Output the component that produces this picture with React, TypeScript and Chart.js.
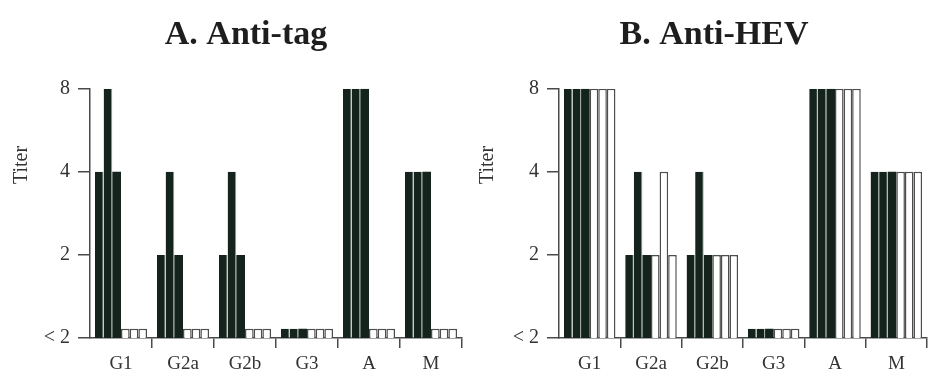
import React, { useEffect, useRef } from "react";
import { Chart, registerables } from "chart.js";

Chart.register(...registerables);

// ---------- data ----------
const categories = ["G1", "G2a", "G2b", "G3", "A", "M"];
const LT = 1.08; // "< 2" (below detection) shown as a short stub
const yTickValues = [1, 2, 4, 8];
const yTickLabels = ["< 2", "2", "4", "8"];

// A. Anti-tag
const tagDark1 = [4, 2, 2, LT, 8, 4];
const tagDark2 = [8, 4, 4, LT, 8, 4];
const tagDark3 = [4, 2, 2, LT, 8, 4];
const tagWhite1 = [LT, LT, LT, LT, LT, LT];
const tagWhite2 = [LT, LT, LT, LT, LT, LT];
const tagWhite3 = [LT, LT, LT, LT, LT, LT];

// B. Anti-HEV
const hevDark1 = [8, 2, 2, LT, 8, 4];
const hevDark2 = [8, 4, 4, LT, 8, 4];
const hevDark3 = [8, 2, 2, LT, 8, 4];
const hevWhite1 = [8, 2, 2, LT, 8, 4];
const hevWhite2 = [8, 4, 2, LT, 8, 4];
const hevWhite3 = [8, 2, 2, LT, 8, 4];

// ---------- styles ----------
const SERIF = "'Liberation Serif', 'DejaVu Serif', serif";
const AXIS = "#4a4a4a";
const TEXT = "#333";
const DARK = "#14241c";
const SEP = "#a3ada7";
const WHITE_EDGE = "#4d4d4d";

const sideLabel = {
  id: "sideLabel",
  afterDraw(chart: any, _args: any, opts: any) {
    if (!opts || !opts.text) return;
    const ctx = chart.ctx;
    ctx.save();
    ctx.translate(opts.x, opts.y);
    ctx.rotate(-Math.PI / 2);
    ctx.textAlign = "center";
    ctx.textBaseline = "middle";
    ctx.fillStyle = TEXT;
    ctx.font = `20px ${SERIF}`;
    ctx.fillText(opts.text, 0, 0);
    ctx.restore();
  },
};

function makeDatasets(d1: number[], d2: number[], d3: number[], w1: number[], w2: number[], w3: number[]) {
  const dark = (data: number[], sep: boolean) => ({
    data,
    backgroundColor: DARK,
    borderColor: SEP,
    borderWidth: sep ? { right: 1, left: 0, top: 0, bottom: 0 } : 0,
    borderSkipped: "start",
  });
  const white = (data: number[]) => ({
    data,
    backgroundColor: "#ffffff",
    borderColor: WHITE_EDGE,
    borderWidth: 1.5,
    borderSkipped: "start",
  });
  return [dark(d1, true), dark(d2, true), dark(d3, false), white(w1), white(w2), white(w3)];
}

function buildConfig(
  title: string,
  datasets: any[],
  padLeft: number,
  yWidth: number,
  padRight: number,
  titerX: number
) {
  return {
    type: "bar",
    data: { labels: categories, datasets },
    plugins: [sideLabel],
    options: {
      responsive: false,
      animation: false,
      devicePixelRatio: 1,
      events: [],
      layout: { padding: { left: padLeft, right: padRight, top: 0, bottom: 0 } },
      datasets: { bar: { categoryPercentage: 0.84, barPercentage: 1.0 } },
      plugins: {
        legend: { display: false },
        tooltip: { enabled: false },
        title: {
          display: true,
          text: title,
          color: "#1e1e1e",
          font: { family: SERIF, size: 34, weight: "bold" },
          padding: { top: 15, bottom: 33 },
        },
        sideLabel: { text: "Titer", x: titerX, y: 165 },
      },
      scales: {
        x: {
          type: "category",
          offset: true,
          z: 1,
          border: { display: true, color: AXIS, width: 1.5 },
          grid: {
            offset: true,
            drawOnChartArea: false,
            drawTicks: true,
            tickLength: 10,
            lineWidth: 1.5,
            color: (c: any) => (c.index === 0 ? "rgba(0,0,0,0)" : AXIS),
          },
          ticks: { color: TEXT, font: { family: SERIF, size: 19 }, padding: 5, maxRotation: 0 },
          afterFit: (s: any) => {
            s.height = 39;
          },
        },
        y: {
          type: "logarithmic",
          min: 1,
          max: 8,
          z: 1,
          border: { display: true, color: AXIS, width: 1.5 },
          grid: { drawOnChartArea: false, drawTicks: true, tickLength: 12, color: AXIS, lineWidth: 1.5 },
          ticks: {
            color: TEXT,
            font: { family: SERIF, size: 20 },
            padding: 8,
            callback: (v: any) => {
              const i = yTickValues.indexOf(Number(v));
              return i >= 0 ? yTickLabels[i] : "";
            },
          },
          afterBuildTicks: (s: any) => {
            s.ticks = yTickValues.map((v) => ({ value: v }));
          },
          afterFit: (s: any) => {
            s.width = yWidth;
          },
        },
      },
    },
  };
}

function Panel(props: { cfg: any; left: number; width: number }) {
  const ref = useRef<HTMLCanvasElement | null>(null);
  useEffect(() => {
    if (!ref.current) return;
    const chart = new Chart(ref.current, props.cfg);
    return () => chart.destroy();
  }, []);
  return (
    <canvas
      ref={ref}
      width={props.width}
      height={377}
      style={{ position: "absolute", left: props.left, top: 0, width: props.width, height: 377 }}
    />
  );
}

export default function App() {
  const cfgA = buildConfig(
    "A. Anti-tag",
    makeDatasets(tagDark1, tagDark2, tagDark3, tagWhite1, tagWhite2, tagWhite3),
    30,
    60,
    30,
    22
  );
  const cfgB = buildConfig(
    "B. Anti-HEV",
    makeDatasets(hevDark1, hevDark2, hevDark3, hevWhite1, hevWhite2, hevWhite3),
    31,
    58,
    31,
    18
  );
  return (
    <div
      style={{
        position: "fixed",
        left: 0,
        top: 0,
        width: 929,
        height: 377,
        overflow: "hidden",
        background: "#fff",
      }}
    >
      <Panel cfg={cfgA} left={0} width={492} />
      <Panel cfg={cfgB} left={470} width={488} />
    </div>
  );
}
